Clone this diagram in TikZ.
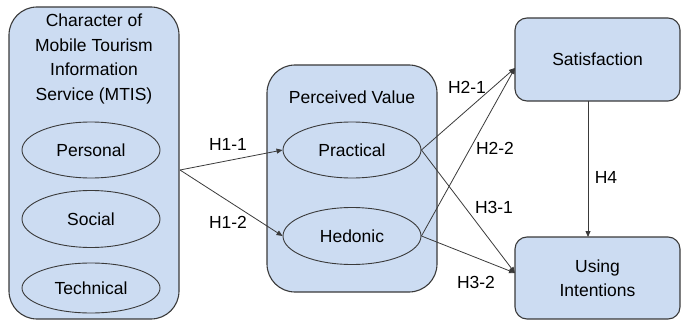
\documentclass[tikz,border=0pt]{standalone}
\usepackage{fontspec}
\setmainfont{Liberation Sans}
\usetikzlibrary{arrows.meta,shapes.geometric}
\definecolor{boxfill}{HTML}{CCDCF2}
\definecolor{boxline}{HTML}{3A3A3A}
\begin{document}
\begin{tikzpicture}[x=1pt,y=-1pt,
  every node/.style={font=\fontsize{17.5}{24.5}\selectfont, inner sep=0pt},
  bigbox/.style={draw=boxline, fill=boxfill, line width=1.1pt, rounded corners=28pt},
  smallbox/.style={draw=boxline, fill=boxfill, line width=1.1pt, rounded corners=12pt},
  oval/.style={ellipse, draw=boxline, fill=boxfill, line width=0.9pt, minimum width=138pt},
  conn/.style={draw=boxline, line width=0.8pt, -{Triangle[length=6pt,width=5pt]}},
  lbl/.style={}
]
\useasboundingbox (0,0) rectangle (688,321);
% containers
\node[bigbox, minimum width=170pt, minimum height=312pt] (L) at (94,163) {};
\node[align=center] (Ltitle) at (94,59) {Character of\\Mobile Tourism\\Information\\Service (MTIS)};
\node[oval, minimum height=56pt] (P1) at (91,150) {Personal};
\node[oval, minimum height=57pt] (P2) at (91,219) {Social};
\node[oval, minimum height=50pt] (P3) at (91,288) {Technical};

\node[bigbox, minimum width=170pt, minimum height=227pt] (M) at (352,178.5) {};
\node (Mtitle) at (352,97) {Perceived Value};
\node[oval, minimum height=56pt] (PR) at (352,150) {Practical};
\node[oval, minimum height=57pt] (HE) at (352,236) {Hedonic};

\node[smallbox, minimum width=165pt, minimum height=83pt] (S) at (597.5,59.5) {Satisfaction};
\node[smallbox, minimum width=165pt, minimum height=82pt, align=center] (U) at (597.5,278) {Using\\Intentions};

% connector endpoints
\coordinate (src) at (180,170);
\coordinate (sin) at (515,68);
\coordinate (uin) at (515,273);
\coordinate (sout) at (588,101);
\coordinate (utop) at (588,237);

\draw[conn] (src) -- (PR.west);
\draw[conn] (src) -- (HE.west);
\draw[conn] (PR.east) -- (sin);
\draw[conn] (HE.east) -- (sin);
\draw[conn] (PR.east) -- (uin);
\draw[conn] (HE.east) -- (uin);
\draw[conn] (sout) -- (utop);

% labels
\node[lbl] (h11) at (228,144) {H1-1};
\node[lbl] (h12) at (228,222) {H1-2};
\node[lbl] (h21) at (467,87) {H2-1};
\node[lbl] (h22) at (495,148) {H2-2};
\node[lbl] (h31) at (494,207) {H3-1};
\node[lbl] (h32) at (476,282) {H3-2};
\node[lbl] (h4) at (606,177) {H4};
\end{tikzpicture}
\end{document}
